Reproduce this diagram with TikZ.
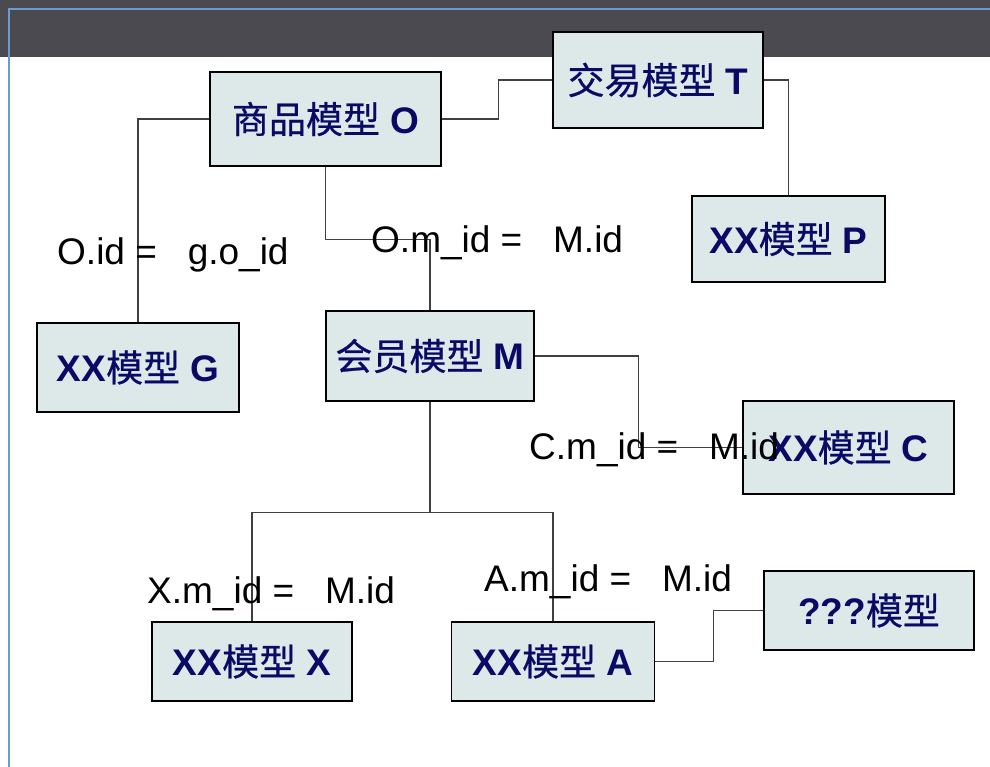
\documentclass[tikz,border=0pt]{standalone}
\usepackage{fontspec}
\setmainfont{Liberation Sans}
\newfontfamily\cjk{Noto Sans CJK SC}[FakeBold=0.6]
\definecolor{barc}{HTML}{4B4A50}
\definecolor{bluec}{HTML}{6C9BD2}
\definecolor{boxc}{HTML}{DDE9E8}
\definecolor{navy}{HTML}{0A0A66}
\tikzset{
  mbox/.style={draw=black, line width=1.8pt, fill=boxc, rectangle, inner sep=0pt,
    text=navy, font=\fontsize{37}{42}\selectfont},
  conn/.style={draw=black!75, line width=1.1pt},
  lbl/.style={anchor=base west, inner sep=0pt, font=\fontsize{37}{42}\selectfont, text=black},
}
\newcommand{\mdl}[2]{\textbf{#1}{\cjk 模型}\ \textbf{#2}}
\begin{document}
\begin{tikzpicture}[x=1pt,y=-1pt]
\useasboundingbox (0,0) rectangle (990,767);
\fill[white] (0,0) rectangle (990,767);
\fill[barc] (0,0) rectangle (990,57);
\draw[bluec, line width=1.6pt] (990,9) -- (9,9) -- (9,767);

% boxes
\node[mbox, minimum width=231, minimum height=94] (O) at (325.5,119) {{\cjk 商品模型}\ \textbf{O}};
\node[mbox, minimum width=210, minimum height=96] (T) at (658,80) {{\cjk 交易模型}\ \textbf{T}};
\node[mbox, minimum width=193, minimum height=86] (P) at (788.5,239) {\mdl{XX}{P}};
\node[mbox, minimum width=202, minimum height=89] (G) at (138,367.5) {\mdl{XX}{G}};
\node[mbox, minimum width=208, minimum height=90] (M) at (430,356) {{\cjk 会员模型}\ \textbf{M}};
\node[mbox, minimum width=211, minimum height=93] (C) at (848.5,447.5) {\mdl{XX}{C}};
\node[mbox, minimum width=200, minimum height=79] (X) at (252,661.5) {\mdl{XX}{X}};
\node[mbox, minimum width=203, minimum height=79] (A) at (553,661.5) {\mdl{XX}{A}};
\node[mbox, minimum width=210, minimum height=79] (Q) at (869,610.5) {\textbf{???}{\cjk 模型}};

% connectors
\draw[conn] (O.east) -- ++(57,0) |- (T.west);
\draw[conn] (T.east) -| (P.north);
\draw[conn] (O.west) -| (G.north);
\draw[conn] (O.south) -- ++(0,73) -| (M.north);
\draw[conn] (M.east) -- ++(104,0) |- (C.west);
\draw[conn] (M.south) -- ++(0,111) coordinate (j);
\draw[conn] (j) -| (X.north);
\draw[conn] (j) -| (A.north);
\draw[conn] (A.east) -- ++(58,0) |- (Q.west);

% labels
\node[lbl] (l1) at (57,265) {O.id =\ \ \ g.o\_id};
\node[lbl] (l2) at (371,253) {O.m\_id =\ \ \ M.id};
\node[lbl] (l3) at (529,459) {C.m\_id =\ \ \ M.id};
\node[lbl] (l4) at (147,603) {X.m\_id =\ \ \ M.id};
\node[lbl] (l5) at (484,591) {A.m\_id =\ \ \ M.id};
\end{tikzpicture}
\end{document}
